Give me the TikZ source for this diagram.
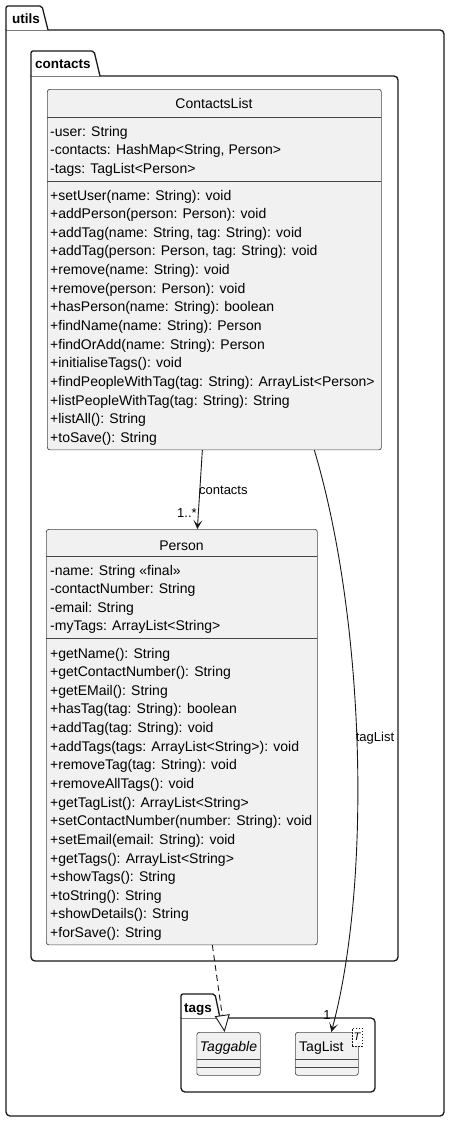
\documentclass[tikz,border=0pt]{standalone}
\usepackage{fontspec}
\setmainfont{Liberation Sans}
\usetikzlibrary{arrows.meta}
\definecolor{lineC}{HTML}{181818}
\definecolor{fillC}{HTML}{F1F1F1}
\tikzset{
  pkgline/.style={draw=lineC, line width=1.3pt, line cap=rect},
  pkgtab/.style={draw=lineC, line width=1.3pt, fill=white, rounded corners=2pt},
  pkglabel/.style={font=\fontsize{13.5}{16}\selectfont\bfseries, anchor=base west, inner sep=0pt},
  clsbox/.style={draw=lineC!80, line width=0.7pt, fill=fillC, rounded corners=2.5pt, anchor=north west, inner sep=0pt},
  septr/.style={draw=lineC!80, line width=0.7pt},
  member/.style={font=\fontsize{14}{16}\selectfont, anchor=base west, inner sep=0pt},
  clsname/.style={font=\fontsize{14}{16}\selectfont, anchor=base, inner sep=0pt},
  conn/.style={draw=lineC, line width=0.9pt},
  edgelabel/.style={font=\fontsize{13}{15}\selectfont, inner sep=0pt},
  assoc/.style={conn, -{Stealth[length=9pt, width=9pt, inset=4.5pt]}},
  realize/.style={conn, dash pattern=on 6pt off 4pt, -{Triangle[open, length=17pt, width=15pt, fill=white]}},
}
\begin{document}
\begin{tikzpicture}[x=1pt, y=-1pt]
\useasboundingbox (0,0) rectangle (450,1122);

% ---------- package utils ----------
\draw[pkgline, rounded corners=4pt] (6,30) -- (444,30) -- (444,1116) -- (6,1116) -- (6,30);
\draw[pkgtab] (6,30) -- (6,6) -- (42,6) -- (48,30);
\node[pkglabel] (lutils) at (12,23) {utils};

% ---------- package contacts ----------
\draw[pkgline, rounded corners=4pt] (31,76) -- (398,76) -- (398,961) -- (31,961) -- (31,76);
\draw[pkgtab] (31,76) -- (31,51) -- (94,51) -- (100,76);
\node[pkglabel] (lcontacts) at (35,68) {contacts};

% ---------- package tags ----------
\draw[pkgline, rounded corners=4pt] (181,1018) -- (375,1018) -- (375,1092) -- (181,1092) -- (181,1018);
\draw[pkgtab] (181,1018) -- (181,994) -- (215,994) -- (220,1018);
\node[pkglabel] (ltags) at (184,1012) {tags};

% ---------- class ContactsList ----------
\node[clsbox, minimum width=334pt, minimum height=360.5pt] (CL) at (47,89) {};
\node[clsname] (CLname) at (214,108.3) {ContactsList};
\draw[septr] (47,117) -- (381,117);
\draw[septr] (47,181) -- (381,181);
\foreach \t [count=\i from 0] in {{-user: String},{-contacts: HashMap<String, Person>},{-tags: TagList<Person>}}
  \node[member] (CLa\i) at (50,136.5+18.4*\i) {\t};
\foreach \t [count=\i from 0] in {{+setUser(name: String): void},{+addPerson(person: Person): void},{+addTag(name: String, tag: String): void},{+addTag(person: Person, tag: String): void},{+remove(name: String): void},{+remove(person: Person): void},{+hasPerson(name: String): boolean},{+findName(name: String): Person},{+findOrAdd(name: String): Person},{+initialiseTags(): void},{+findPeopleWithTag(tag: String): ArrayList<Person>},{+listPeopleWithTag(tag: String): String},{+listAll(): String},{+toSave(): String}}
  \node[member] (CLm\i) at (50,200+18.64*\i) {\t};

% ---------- class Person ----------
\node[clsbox, minimum width=271pt, minimum height=415.5pt] (P) at (46,529) {};
\node[clsname] (Pname) at (181.5,550) {Person};
\draw[septr] (46,556) -- (317,556);
\draw[septr] (46,638.5) -- (317,638.5);
\foreach \t [count=\i from 0] in {{-name: String «final»},{-contactNumber: String},{-email: String},{-myTags: ArrayList<String>}}
  \node[member] (Pa\i) at (50,575.5+18.4*\i) {\t};
\foreach \t [count=\i from 0] in {{+getName(): String},{+getContactNumber(): String},{+getEMail(): String},{+hasTag(tag: String): boolean},{+addTag(tag: String): void},{+addTags(tags: ArrayList<String>): void},{+removeTag(tag: String): void},{+removeAllTags(): void},{+getTagList(): ArrayList<String>},{+setContactNumber(number: String): void},{+setEmail(email: String): void},{+getTags(): ArrayList<String>},{+showTags(): String},{+toString(): String},{+showDetails(): String},{+forSave(): String}}
  \node[member] (Pm\i) at (50,658+18.64*\i) {\t};

% ---------- class Taggable ----------
\node[clsbox, minimum width=63.5pt, minimum height=43pt] (TG) at (196.5,1032) {};
\node[clsname, font=\fontsize{14}{16}\selectfont\itshape] (TGname) at (228.5,1051) {Taggable};
\draw[septr] (196.5,1059) -- (260,1059);
\draw[septr] (196.5,1067) -- (260,1067);

% ---------- class TagList ----------
\node[clsbox, minimum width=63pt, minimum height=43pt] (TL) at (295,1032) {};
\node[member] (TLname) at (299,1051) {TagList};
\draw[septr] (295,1059) -- (358,1059);
\draw[septr] (295,1067) -- (358,1067);
\node[draw=lineC, dash pattern=on 1.5pt off 1.5pt, line width=0.7pt, fill=white, minimum width=10pt, minimum height=18pt, inner sep=0pt, font=\fontsize{11}{12}\selectfont\itshape] (TLT) at (357,1037) {T};

% ---------- connectors ----------
\draw[assoc] ([xshift=-12pt]CL.south) -- ([xshift=15.5pt]P.north);
\node[edgelabel, anchor=west] (lbl1) at (199,490) {contacts};
\node[edgelabel] (lbl2) at (187,513) {1..*};

\draw[assoc] ([xshift=100pt]CL.south) .. controls (365,620) and (372,880) .. ([xshift=4.5pt]TL.north);
\node[edgelabel] (lbl3) at (375,738) {tagList};
\node[edgelabel] (lbl4) at (327,1015) {1};

\draw[realize] ([xshift=30.5pt]P.south) -- ([xshift=-4pt]TG.north);
\end{tikzpicture}
\end{document}
